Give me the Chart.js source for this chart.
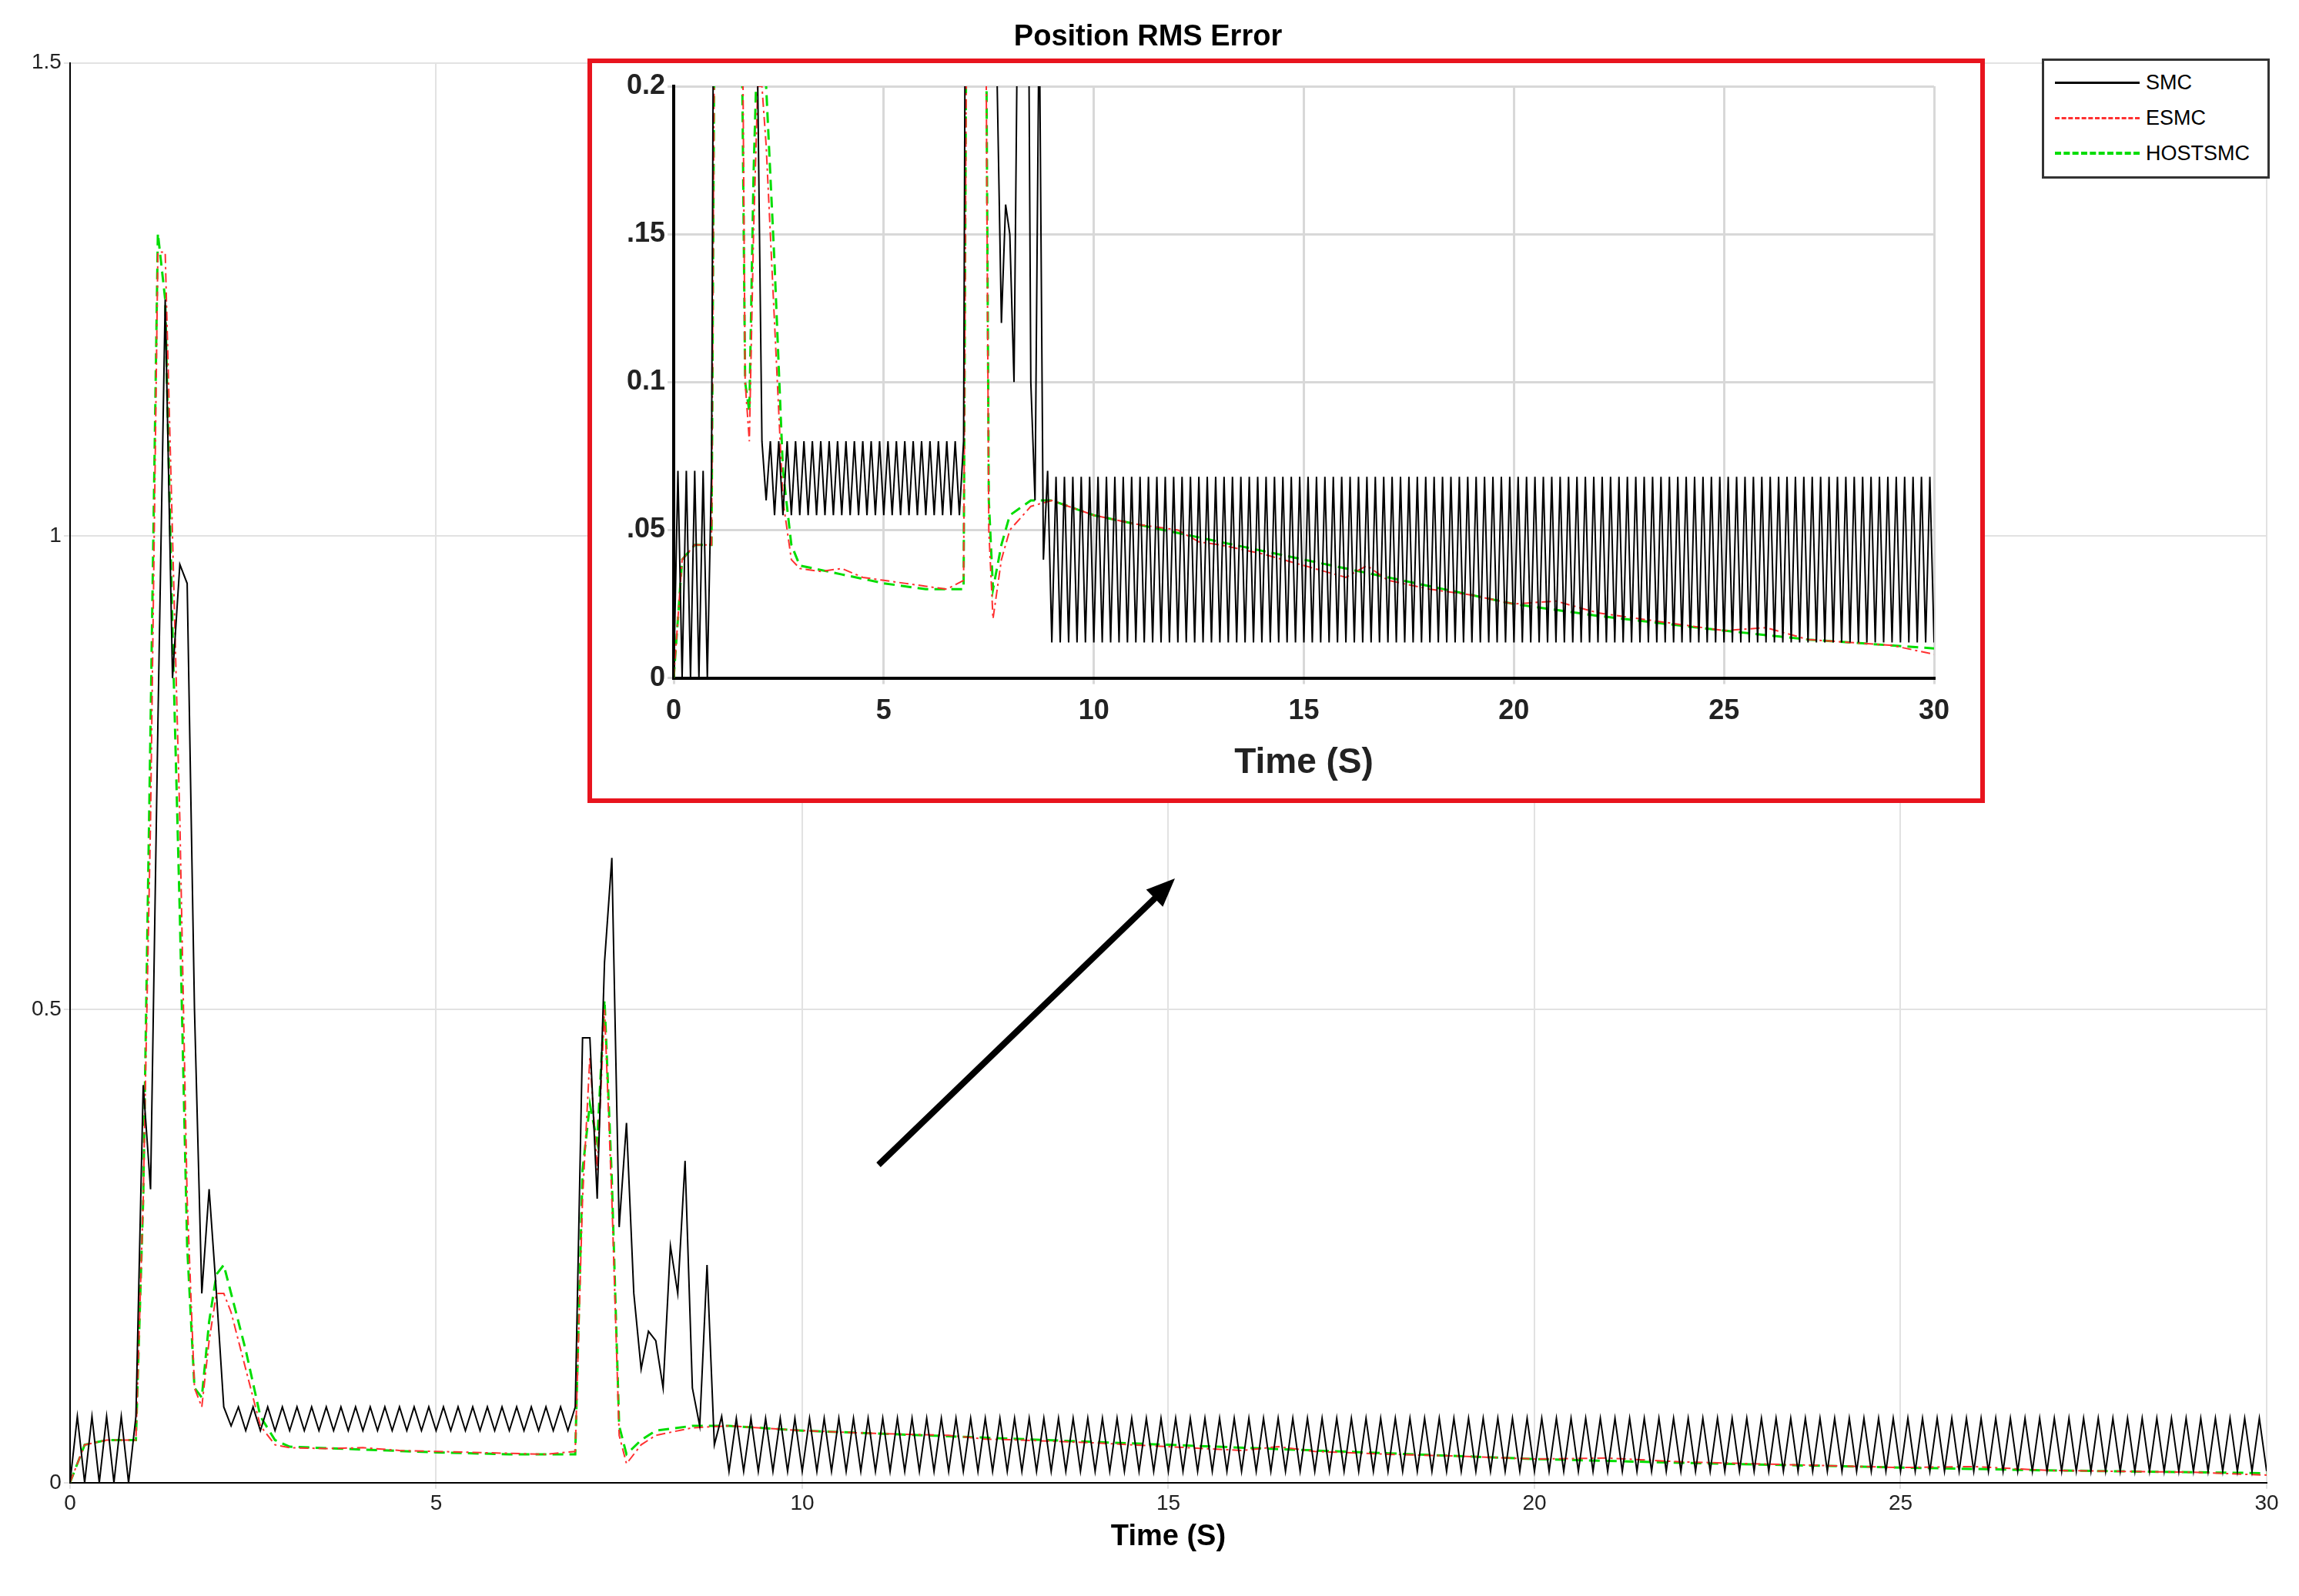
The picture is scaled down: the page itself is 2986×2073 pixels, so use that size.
<!DOCTYPE html>
<html>
<head>
<meta charset="utf-8">
<script src="https://cdn.jsdelivr.net/npm/chart.js@4/dist/chart.umd.min.js"></script>
<style>
  body { margin: 0; background: #fff; width: 2986px; height: 2073px; overflow: hidden; font-family: Arial, "Liberation Sans", sans-serif; }
  #main { position: absolute; left: 0; top: 0; }
  #insetBox { position: absolute; left: 763px; top: 76px; width: 1803px; height: 955px; border: 6px solid #e8141e; background: #fff; }
  #inset { position: absolute; left: 0; top: 0; }
  #legend { position: absolute; left: 2652px; top: 76px; width: 290px; height: 150px; border: 3px solid #333; background: #fff; font-size: 27px; }
  .row { position: absolute; left: 14px; height: 40px; display: flex; align-items: center; }
  .row span.l { display: inline-block; width: 110px; margin-right: 8px; }
</style>
</head>
<body>
<canvas id="main" width="2986" height="2073"></canvas>
<div id="insetBox"><canvas id="inset" width="1803" height="955"></canvas></div>
<div id="legend">
  <div class="row" style="top:8px"><span class="l" style="border-top:3px solid #000"></span>SMC</div>
  <div class="row" style="top:54px"><span class="l" style="border-top:3px dashed #ff3030"></span>ESMC</div>
  <div class="row" style="top:100px"><span class="l" style="border-top:4px dashed #00dd00"></span>HOSTSMC</div>
</div>
<script>
"use strict";
// SMC sampled every 0.1 s from 0 to 30 s
const smcStart = [0, 0.07, 0, 0.07, 0, 0.07, 0, 0.07, 0, 0.07,
  0.42, 0.31, 0.8, 1.25, 0.85, 0.97, 0.95, 0.5, 0.2, 0.31, 0.2, 0.08, 0.06];
const smcFlat1 = [0.08, 0.055, 0.08, 0.055, 0.08, 0.055, 0.08, 0.055, 0.08, 0.055,
  0.08, 0.055, 0.08, 0.055, 0.08, 0.055, 0.08, 0.055, 0.08, 0.055,
  0.08, 0.055, 0.08, 0.055, 0.08, 0.055, 0.08, 0.055, 0.08, 0.055,
  0.08, 0.055, 0.08, 0.055, 0.08, 0.055, 0.08, 0.055, 0.08, 0.055,
  0.08, 0.055, 0.08, 0.055, 0.08, 0.055, 0.08];
const smcBurst = [0.47, 0.47, 0.3, 0.55, 0.66, 0.27, 0.38, 0.2, 0.12, 0.16,
  0.15, 0.1, 0.25, 0.2, 0.34, 0.1, 0.06, 0.23, 0.04, 0.07];
const smcFlat2 = [
  0.012, 0.068, 0.012, 0.068, 0.012, 0.068, 0.012, 0.068, 0.012, 0.068,
  0.012, 0.068, 0.012, 0.068, 0.012, 0.068, 0.012, 0.068, 0.012, 0.068,
  0.012, 0.068, 0.012, 0.068, 0.012, 0.068, 0.012, 0.068, 0.012, 0.068,
  0.012, 0.068, 0.012, 0.068, 0.012, 0.068, 0.012, 0.068, 0.012, 0.068,
  0.012, 0.068, 0.012, 0.068, 0.012, 0.068, 0.012, 0.068, 0.012, 0.068,
  0.012, 0.068, 0.012, 0.068, 0.012, 0.068, 0.012, 0.068, 0.012, 0.068,
  0.012, 0.068, 0.012, 0.068, 0.012, 0.068, 0.012, 0.068, 0.012, 0.068,
  0.012, 0.068, 0.012, 0.068, 0.012, 0.068, 0.012, 0.068, 0.012, 0.068,
  0.012, 0.068, 0.012, 0.068, 0.012, 0.068, 0.012, 0.068, 0.012, 0.068,
  0.012, 0.068, 0.012, 0.068, 0.012, 0.068, 0.012, 0.068, 0.012, 0.068,
  0.012, 0.068, 0.012, 0.068, 0.012, 0.068, 0.012, 0.068, 0.012, 0.068,
  0.012, 0.068, 0.012, 0.068, 0.012, 0.068, 0.012, 0.068, 0.012, 0.068,
  0.012, 0.068, 0.012, 0.068, 0.012, 0.068, 0.012, 0.068, 0.012, 0.068,
  0.012, 0.068, 0.012, 0.068, 0.012, 0.068, 0.012, 0.068, 0.012, 0.068,
  0.012, 0.068, 0.012, 0.068, 0.012, 0.068, 0.012, 0.068, 0.012, 0.068,
  0.012, 0.068, 0.012, 0.068, 0.012, 0.068, 0.012, 0.068, 0.012, 0.068,
  0.012, 0.068, 0.012, 0.068, 0.012, 0.068, 0.012, 0.068, 0.012, 0.068,
  0.012, 0.068, 0.012, 0.068, 0.012, 0.068, 0.012, 0.068, 0.012, 0.068,
  0.012, 0.068, 0.012, 0.068, 0.012, 0.068, 0.012, 0.068, 0.012, 0.068,
  0.012, 0.068, 0.012, 0.068, 0.012, 0.068, 0.012, 0.068, 0.012, 0.068,
  0.012, 0.068, 0.012, 0.068, 0.012, 0.068, 0.012, 0.068, 0.012, 0.068,
  0.012];
const smcValues = [...smcStart, ...smcFlat1, ...smcBurst, ...smcFlat2];

const esmcTime = [0, 0.2, 0.5, 0.9, 1.0, 1.1, 1.2, 1.3, 1.4, 1.5, 1.6, 1.7, 1.8, 1.9, 2.0, 2.1, 2.2, 2.4, 2.6, 2.8, 3, 3.5, 4, 4.5, 5, 5.5, 6, 6.5, 6.9,
  7.0, 7.1, 7.2, 7.3, 7.4, 7.5, 7.6, 7.8, 8.0, 8.5, 9, 10, 11, 12, 12.5, 13, 14, 15, 16, 16.5, 17, 18, 19, 20, 21, 22, 23, 24, 25, 26, 27, 28, 29, 30];
const esmcValues = [0, 0.04, 0.045, 0.045, 0.3, 0.7, 1.3, 1.3, 1.0, 0.7, 0.3, 0.1, 0.08, 0.15, 0.2, 0.2, 0.18, 0.12, 0.06, 0.04, 0.037, 0.036, 0.037, 0.034, 0.033, 0.032, 0.031, 0.03, 0.033,
  0.3, 0.45, 0.33, 0.5, 0.3, 0.05, 0.02, 0.04, 0.05, 0.058, 0.06, 0.055, 0.052, 0.05, 0.046, 0.045, 0.042, 0.038, 0.034, 0.038, 0.033, 0.03, 0.028, 0.025, 0.026, 0.022, 0.02, 0.018, 0.016, 0.017, 0.013, 0.012, 0.011, 0.008];
const hostTime = [0, 0.2, 0.5, 0.9, 1.0, 1.1, 1.2, 1.3, 1.4, 1.5, 1.6, 1.7, 1.8, 1.9, 2.0, 2.1, 2.2, 2.4, 2.6, 2.8, 3, 4, 5, 6, 6.9,
  7.0, 7.1, 7.2, 7.3, 7.4, 7.5, 7.6, 7.8, 8.0, 8.5, 9, 10, 12, 15, 18, 20, 22, 25, 27, 30];
const hostValues = [0, 0.04, 0.045, 0.045, 0.3, 0.8, 1.32, 1.25, 0.9, 0.6, 0.25, 0.1, 0.09, 0.17, 0.22, 0.23, 0.2, 0.14, 0.07, 0.045, 0.038, 0.035, 0.032, 0.03, 0.03,
  0.33, 0.4, 0.36, 0.51, 0.32, 0.06, 0.03, 0.045, 0.055, 0.06, 0.06, 0.055, 0.049, 0.04, 0.031, 0.025, 0.021, 0.016, 0.013, 0.01];

const mainYTicks = [0, 0.5, 1, 1.5];
const mainYLabels = ["0", "0.5", "1", "1.5"];
const insetYTicks = [0, 0.05, 0.1, 0.15, 0.2];
const insetYLabels = ["0", ".05", "0.1", ".15", "0.2"];

function toPoints(times, values) {
  return values.map((v, i) => ({ x: times[i], y: v }));
}
const smcTime = smcValues.map((v, i) => i / 10);

function datasets(w) {
  return [
    { data: toPoints(smcTime, smcValues), borderColor: "#000", borderWidth: w, pointRadius: 0, tension: 0 },
    { data: toPoints(esmcTime, esmcValues), borderColor: "#ff3030", borderWidth: w, borderDash: [12, 5, 3, 5], pointRadius: 0, tension: 0 },
    { data: toPoints(hostTime, hostValues), borderColor: "#00dd00", borderWidth: w + 1, borderDash: [14, 8], pointRadius: 0, tension: 0 },
  ];
}

Chart.defaults.font.family = "Arial, 'Liberation Sans', sans-serif";
Chart.defaults.color = "#222";

const arrowPlugin = {
  id: "arrow",
  afterDraw(chart) {
    const c = chart.ctx;
    const x1 = 1141, y1 = 1513, x2 = 1526, y2 = 1141;
    c.save();
    c.strokeStyle = "#000"; c.fillStyle = "#000"; c.lineWidth = 8;
    c.beginPath(); c.moveTo(x1, y1); c.lineTo(x2 - 20, y2 + 20); c.stroke();
    const a = Math.atan2(y2 - y1, x2 - x1);
    c.beginPath(); c.moveTo(x2, y2);
    c.lineTo(x2 - 40 * Math.cos(a - 0.4), y2 - 40 * Math.sin(a - 0.4));
    c.lineTo(x2 - 40 * Math.cos(a + 0.4), y2 - 40 * Math.sin(a + 0.4));
    c.closePath(); c.fill();
    c.restore();
  },
};

new Chart(document.getElementById("main"), {
  type: "line",
  data: { datasets: datasets(2) },
  plugins: [arrowPlugin],
  options: {
    responsive: false, animation: false, devicePixelRatio: 1,
    layout: { padding: { left: 38, right: 42, top: 26, bottom: 50 } },
    plugins: {
      legend: { display: false },
      title: { display: true, text: "Position RMS Error", font: { size: 38, weight: "bold" }, color: "#000", padding: { top: 0, bottom: 10 } },
    },
    scales: {
      x: {
        type: "linear", min: 0, max: 30,
        ticks: { stepSize: 5, font: { size: 28 }, maxRotation: 0 },
        grid: { color: "#e2e2e2", lineWidth: 2 },
        border: { color: "#000", width: 2 },
        title: { display: true, text: "Time (S)", font: { size: 38, weight: "bold" }, color: "#000", padding: { top: 0 } },
      },
      y: {
        min: 0, max: 1.5,
        afterBuildTicks: (ax) => { ax.ticks = mainYTicks.map((v) => ({ value: v })); },
        ticks: { font: { size: 28 }, callback: (v) => mainYLabels[mainYTicks.indexOf(v)] ?? "" },
        grid: { color: "#e2e2e2", lineWidth: 2 },
        border: { color: "#000", width: 2 },
      },
    },
  },
});

new Chart(document.getElementById("inset"), {
  type: "line",
  data: { datasets: datasets(2) },
  options: {
    responsive: false, animation: false, devicePixelRatio: 1,
    layout: { padding: { left: 42, right: 60, top: 30, bottom: 14 } },
    plugins: { legend: { display: false } },
    scales: {
      x: {
        type: "linear", min: 0, max: 30,
        ticks: { stepSize: 5, font: { size: 36, weight: "bold" }, maxRotation: 0, padding: 14 },
        grid: { color: "#d8d8d8", lineWidth: 3 },
        border: { color: "#000", width: 4 },
        title: { display: true, text: "Time (S)", font: { size: 46, weight: "bold" }, color: "#222" },
      },
      y: {
        min: 0, max: 0.2,
        afterBuildTicks: (ax) => { ax.ticks = insetYTicks.map((v) => ({ value: v })); },
        ticks: { font: { size: 36, weight: "bold" }, callback: (v) => insetYLabels[insetYTicks.indexOf(v)] ?? "" },
        grid: { color: "#d8d8d8", lineWidth: 3 },
        border: { color: "#000", width: 4 },
      },
    },
  },
});
</script>
</body>
</html>
